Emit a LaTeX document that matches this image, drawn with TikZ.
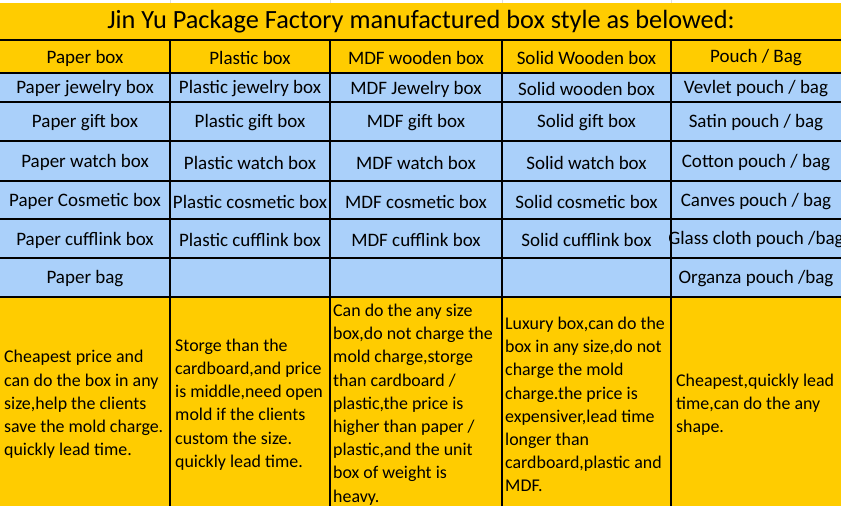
\documentclass[tikz,border=0pt]{standalone}
\usepackage{fontspec}
\setmainfont{Carlito}
\definecolor{boxyellow}{RGB}{255,204,0}
\definecolor{boxblue}{RGB}{170,208,250}
\tikzset{
  cell/.style={inner sep=0pt, font=\fontsize{19}{22}\selectfont},
  note/.style={inner sep=0pt, anchor=west, align=left, font=\fontsize{17.9}{23.2}\selectfont},
  gridline/.style={line width=1.1pt, black},
}

\begin{document}
\begin{tikzpicture}[x=1pt, y=-1pt]
		\useasboundingbox (0,0) rectangle (841,506);

		% Draw the backgrounds
		\fill[boxyellow] (0,3) rectangle (841,73);
		\fill[boxblue] (0,73) rectangle (841,297);
		\fill[boxyellow] (0,297) rectangle (841,506);
		\draw[gray!25] (170,0) -- (170,3);
		\draw[gray!25] (330,0) -- (330,3);
		\draw[gray!25] (502,0) -- (502,3);
		\draw[gray!25] (671,0) -- (671,3);

		% Draw the grid
		\draw[gridline] (0,40) -- (841,40);
		\draw[gridline] (0,73) -- (841,73);
		\draw[gridline] (0,102) -- (841,102);
		\draw[gridline] (0,141) -- (841,141);
		\draw[gridline] (0,181) -- (841,181);
		\draw[gridline] (0,219) -- (841,219);
		\draw[gridline] (0,258) -- (841,258);
		\draw[gridline] (0,297) -- (841,297);
		\draw[gridline] (170,40) -- (170,506);
		\draw[gridline] (330,40) -- (330,506);
		\draw[gridline] (502,40) -- (502,506);
		\draw[gridline] (671,40) -- (671,506);

		% Draw the title
		\node[cell, font=\fontsize{26.3}{30}\selectfont] (title) at (421,22) {Jin Yu Package Factory manufactured box style as belowed:};

		% Draw the header row
		\node[cell] (paperhead) at (85,58) {Paper box};
		\node[cell] (plastichead) at (250,58) {Plastic box};
		\node[cell] (mdfhead) at (416,58) {MDF wooden box};
		\node[cell] (solidhead) at (586.5,58) {Solid Wooden box};
		\node[cell] (pouchhead) at (756,58) {Pouch / Bag};

		% Paper column
		\node[cell] (paper1) at (85,89) {Paper jewelry box};
		\node[cell] (paper2) at (85,123) {Paper gift box};
		\node[cell] (paper3) at (85,162.5) {Paper watch box};
		\node[cell] (paper4) at (85,201.5) {Paper Cosmetic box};
		\node[cell] (paper5) at (85,240) {Paper cufflink box};
		\node[cell] (paper6) at (85,279) {Paper bag};

		% Plastic column
		\node[cell] (plastic1) at (250,89) {Plastic jewelry box};
		\node[cell] (plastic2) at (250,123) {Plastic gift box};
		\node[cell] (plastic3) at (250,162.5) {Plastic watch box};
		\node[cell] (plastic4) at (250,201.5) {Plastic cosmetic box};
		\node[cell] (plastic5) at (250,240) {Plastic cufflink box};

		% MDF column
		\node[cell] (mdf1) at (416,89) {MDF Jewelry box};
		\node[cell] (mdf2) at (416,123) {MDF gift box};
		\node[cell] (mdf3) at (416,162.5) {MDF watch box};
		\node[cell] (mdf4) at (416,201.5) {MDF cosmetic box};
		\node[cell] (mdf5) at (416,240) {MDF cufflink box};

		% Solid wood column
		\node[cell] (solid1) at (586.5,89) {Solid wooden box};
		\node[cell] (solid2) at (586.5,123) {Solid gift box};
		\node[cell] (solid3) at (586.5,162.5) {Solid watch box};
		\node[cell] (solid4) at (586.5,201.5) {Solid cosmetic box};
		\node[cell] (solid5) at (586.5,240) {Solid cufflink box};

		% Pouch column
		\node[cell] (pouch1) at (756,89) {Vevlet pouch / bag};
		\node[cell] (pouch2) at (756,123) {Satin pouch / bag};
		\node[cell] (pouch3) at (756,162.5) {Cotton pouch / bag};
		\node[cell] (pouch4) at (756,201.5) {Canves pouch / bag};
		\node[cell] (pouch5) at (756,240) {Glass cloth pouch /bag};
		\node[cell] (pouch6) at (756,279) {Organza pouch /bag};

		% Draw the notes
		\node[note] (papernote) at (4,404.5) {Cheapest price and\\can do the box in any\\size,help the clients\\save the mold charge.\\quickly lead time.};
		\node[note] (plasticnote) at (175,404.5) {Storge than the\\cardboard,and price\\is middle,need open\\mold if the clients\\custom the size.\\quickly lead time.};
		\node[note] (mdfnote) at (333,404.5) {Can do the any size\\box,do not charge the\\mold charge,storge\\than cardboard /\\plastic,the price is\\higher than paper /\\plastic,and the unit\\box of weight is\\heavy.};
		\node[note] (solidnote) at (505,404.5) {Luxury box,can do the\\box in any size,do not\\charge the mold\\charge.the price is\\expensiver,lead time\\longer than\\cardboard,plastic and\\MDF.};
		\node[note] (pouchnote) at (676,404.5) {Cheapest,quickly lead\\time,can do the any\\shape.};

	\end{tikzpicture}
\end{document}
